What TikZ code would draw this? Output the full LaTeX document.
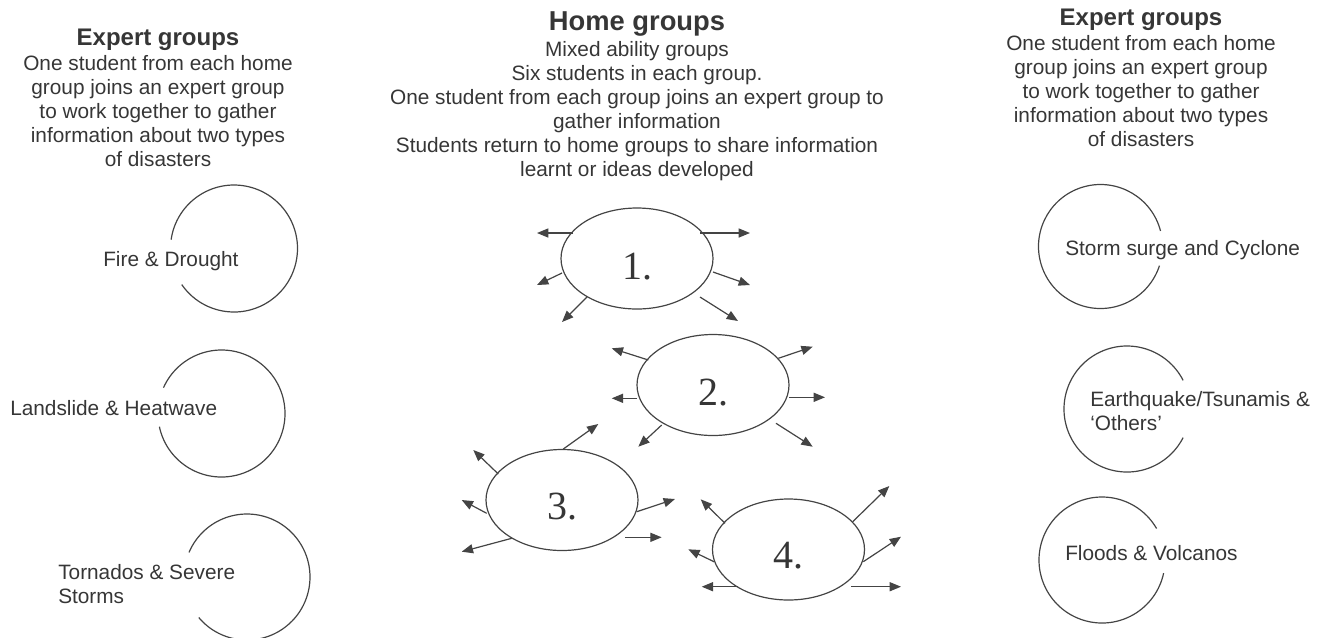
\documentclass[tikz,border=0pt]{standalone}
\usepackage{fontspec}
\setmainfont{Liberation Sans}
\newfontfamily\numfont{Liberation Serif}
\usetikzlibrary{arrows.meta,shapes.geometric}
\definecolor{ink}{HTML}{363636}
\definecolor{pen}{HTML}{444444}
\tikzset{
  body/.style={font=\fontsize{15.6}{18}\selectfont, text=ink, inner sep=0pt, anchor=base},
  ttl/.style={font=\fontsize{18}{21}\selectfont\bfseries, text=ink, inner sep=0pt, anchor=base},
  bigttl/.style={ttl, font=\fontsize{20.5}{24}\selectfont\bfseries},
  ring/.style={draw=pen, line width=0.9pt},
  grp/.style={ellipse, draw=pen, line width=0.9pt, minimum width=114pt, minimum height=75.75pt, inner sep=0pt},
  num/.style={font=\numfont\fontsize{30}{30}\selectfont, text=ink, inner sep=0pt, anchor=base},
  arr/.style={draw=pen, line width=0.9pt, -{Triangle[length=8.5pt,width=6.8pt]}},
}
\begin{document}
\begin{tikzpicture}[x=0.75pt, y=0.75pt]
\useasboundingbox (0,0) rectangle (1327,-637);

% ---- headings and explanations ----
\node[ttl] (lt) at (158,-45.7) {Expert groups};
\foreach \t [count=\i from 0] in {One student from each home, group joins an expert group, to work together to gather, information about two types, of disasters}
  \node[body] (lb\i) at (158,{-70.7-24*\i}) {\t};

\node[bigttl] (ct) at (637,-30.7) {Home groups};
\foreach \t [count=\i from 0] in {Mixed ability groups, Six students in each group., One student from each group joins an expert group to, gather information, Students return to home groups to share information, learnt or ideas developed}
  \node[body] (cb\i) at (637,{-56.3-24*\i}) {\t};

\node[ttl] (rt) at (1141,-25.7) {Expert groups};
\foreach \t [count=\i from 0] in {One student from each home, group joins an expert group, to work together to gather, information about two types, of disasters}
  \node[body] (rb\i) at (1141,{-50.7-24*\i}) {\t};

% ---- expert groups, left ----
\draw[ring] (234,-248.5) ++(-145.4:63.5) arc[start angle=-145.4, end angle=172, radius=63.5];
\draw[ring] (221.5,-413.5) ++(-168:63.5) arc[start angle=-168, end angle=156, radius=63.5];
\draw[ring] (247,-577) ++(-140:63) arc[start angle=-140, end angle=157, radius=63];
\node[body, anchor=base west] (e1) at (103,-266) {Fire \& Drought};
\node[body, anchor=base west] (e2) at (10,-415) {Landslide \& Heatwave};
\node[body, anchor=base west] (e3a) at (58,-579) {Tornados \& Severe};
\node[body, anchor=base west] (e3b) at (58,-603) {Storms};

% ---- expert groups, right ----
\draw[ring] (1100.5,-246.5) ++(14.5:62) arc[start angle=14.5, end angle=342, radius=62];
\draw[ring] (1127,-409) ++(27:63) arc[start angle=27, end angle=333, radius=63];
\draw[ring] (1102,-560) ++(30:63) arc[start angle=30, end angle=348, radius=63];
\node[body, anchor=base west] (e4) at (1065,-255) {Storm surge and Cyclone};
\node[body, anchor=base west] (e5a) at (1090,-406.7) {Earthquake/Tsunamis \&};
\node[body, anchor=base west] (e5b) at (1090,-430.5) {‘Others’};
\node[body, anchor=base west] (e6) at (1065,-560.7) {Floods \& Volcanos};

% ---- home groups ----
\node[grp] (g1) at (637,-258.5) {};
\node[grp] (g2) at (713,-385) {};
\node[grp] (g3) at (562,-500) {};
\node[grp] (g4) at (788.5,-549.5) {};
\node[num] (n1) at ([yshift=-15.4pt]g1.center) {1.};
\node[num] (n2) at ([yshift=-15pt]g2.center) {2.};
\node[num] (n3) at ([yshift=-14.3pt]g3.center) {3.};
\node[num] (n4) at ([yshift=-14.6pt]g4.center) {4.};

% students leaving group 1
\foreach \a/\b/\c/\d in {-64/25.5/-100/25.5, 63/25.5/113/25.5, -75/-14.5/-100/-26.5, 76/-13.5/113/-26.5, -50/-38.5/-75/-63.5, 63/-38.5/101/-62.5}
  \draw[arr] ([shift={(\a,\b)}]g1.center) -- ([shift={(\c,\d)}]g1.center);
% students leaving group 2
\foreach \a/\b/\c/\d in {-64.7/25/-101.3/36.7, -76.3/-13.3/-101.3/-13.3, -51.3/-40/-74.7/-61.7, 65.3/26.7/99.7/38.3, 76/-12.3/112/-12.3, 63/-38.3/99.7/-61.7}
  \draw[arr] ([shift={(\a,\b)}]g2.center) -- ([shift={(\c,\d)}]g2.center);
% students leaving group 3
\foreach \a/\b/\c/\d in {1.3/51/36.3/76, -63.7/26/-88.7/50, -75.3/-13.3/-100.3/0, -50.3/-38.3/-100.3/-51.7, 74.7/-11.7/113/1, 63/-37.3/99.7/-37.3}
  \draw[arr] ([shift={(\a,\b)}]g3.center) -- ([shift={(\c,\d)}]g3.center);
% students leaving group 4
\foreach \a/\b/\c/\d in {-63.5/26.2/-87.8/50.2, -74.5/-12.2/-100.2/0.2, -50.2/-37.2/-86.8/-37.2, 64.2/27.8/100.8/63.5, 74.8/-12.2/112.5/12.8, 62.5/-37.2/112.5/-37.2}
  \draw[arr] ([shift={(\a,\b)}]g4.center) -- ([shift={(\c,\d)}]g4.center);
\end{tikzpicture}
\end{document}
